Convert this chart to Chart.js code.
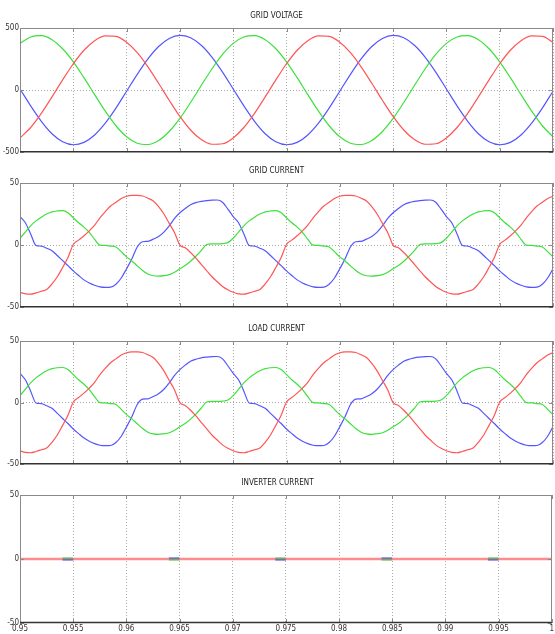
<!DOCTYPE html>
<html>
<head>
<meta charset="utf-8">
<script src="https://cdn.jsdelivr.net/npm/chart.js@4.4.1/dist/chart.umd.min.js"></script>
<style>
  body { margin: 0; background: #fff; }
  #wrap { position: relative; width: 555px; height: 634px; overflow: hidden; }
  canvas { position: absolute; left: 0; }
</style>
</head>
<body>
<div id="wrap">
  <canvas id="c1" width="555" height="150" style="top:8px"></canvas>
  <canvas id="c2" width="555" height="150" style="top:163px"></canvas>
  <canvas id="c3" width="555" height="149" style="top:321px"></canvas>
  <canvas id="c4" width="555" height="159" style="top:475px"></canvas>
</div>
<script>
'use strict';

// sampling: voltage every 1 ms, currents every 0.5 ms, from 0.95 s to 1.0 s
var tStart = 0.95;
var vStep = 0.001;
var iStep = 0.0005;

// grid voltage (V), 51 samples
var vRed = [-385, -301, -187, -55, 82, 212, 321, 398, 436, 432, 385, 301, 187, 55, -82, -212, -321, -398, -436, -432,
  -385, -301, -187, -55, 82, 212, 321, 398, 436, 432, 385, 301, 187, 55, -82, -212, -321, -398, -436, -432,
  -385, -301, -187, -55, 82, 212, 321, 398, 436, 432, 385];
var vGreen = [376, 428, 438, 406, 333, 228, 100, -37, -170, -287, -376, -428, -438, -406, -333, -228, -100, 37, 170, 287,
  376, 428, 438, 406, 333, 228, 100, -37, -170, -287, -376, -428, -438, -406, -333, -228, -100, 37, 170, 287,
  376, 428, 438, 406, 333, 228, 100, -37, -170, -287, -376];
var vBlue = [9, -127, -251, -351, -416, -440, -421, -361, -266, -145, -9, 127, 251, 351, 416, 440, 421, 361, 266, 145,
  9, -127, -251, -351, -416, -440, -421, -361, -266, -145, -9, 127, 251, 351, 416, 440, 421, 361, 266, 145,
  9, -127, -251, -351, -416, -440, -421, -361, -266, -145, -9];

// grid current (A), 101 samples
var gRed = [-38, -39.2, -39.5, -38.5, -37.2, -35.7, -31.3, -25.5, -18, -10, 0.5, 4, 7.5, 11.5, 16, 22, 27, 31.5, 34.5, 37.5,
  39.3, 40, 40, 39.5, 37.7, 35.5, 31, 25, 17.5, 10, 0, -2.2, -6, -10.5, -15.5, -20.5, -25.5, -29.5, -33.3, -36,
  -38, -39.2, -39.5, -38.5, -37.2, -35.7, -31.3, -25.5, -18, -10, 0.5, 4, 7.5, 11.5, 16, 22, 27, 31.5, 34.5, 37.5,
  39.3, 40, 40, 39.5, 37.7, 35.5, 31, 25, 17.5, 10, 0, -2.2, -6, -10.5, -15.5, -20.5, -25.5, -29.5, -33.3, -36,
  -38, -39.2, -39.5, -38.5, -37.2, -35.7, -31.3, -25.5, -18, -10, 0.5, 4, 7.5, 11.5, 16, 22, 27, 31.5, 34.5, 37.5,
  39.3];
var gGreen = [5.5, 10.5, 15.5, 19.5, 22.5, 25, 26.8, 27.5, 27.7, 26, 22, 18, 14.5, 10.3, 4.7, 0, -0.3, -0.8, -1.5, -5.3,
  -9.5, -12.8, -16.7, -20.4, -23.3, -24.7, -25, -24.6, -23.8, -21.8, -19, -16.5, -13, -9, -4.5, 0.5, 1, 1, 1.2, 2,
  5.5, 10.5, 15.5, 19.5, 22.5, 25, 26.8, 27.5, 27.7, 26, 22, 18, 14.5, 10.3, 4.7, 0, -0.3, -0.8, -1.5, -5.3,
  -9.5, -12.8, -16.7, -20.4, -23.3, -24.7, -25, -24.6, -23.8, -21.8, -19, -16.5, -13, -9, -4.5, 0.5, 1, 1, 1.2, 2,
  5.5, 10.5, 15.5, 19.5, 22.5, 25, 26.8, 27.5, 27.7, 26, 22, 18, 14.5, 10.3, 4.7, 0, -0.3, -0.8, -1.5, -5.3,
  -9.5];
var gBlue = [23, 18, 9, -0.3, -0.8, -2.5, -4.5, -8.4, -12.5, -16.5, -20.8, -24.5, -28, -30.5, -32.3, -33.6, -34, -33.8, -31.5, -26.5,
  -19, -11, -1.5, 2.7, 3, 4.8, 7, 10.5, 15.5, 21.5, 26, 29.5, 32.5, 34.2, 35.2, 35.8, 36.2, 36.3, 34.5, 29,
  23, 18, 9, -0.3, -0.8, -2.5, -4.5, -8.4, -12.5, -16.5, -20.8, -24.5, -28, -30.5, -32.3, -33.6, -34, -33.8, -31.5, -26.5,
  -19, -11, -1.5, 2.7, 3, 4.8, 7, 10.5, 15.5, 21.5, 26, 29.5, 32.5, 34.2, 35.2, 35.8, 36.2, 36.3, 34.5, 29,
  23, 18, 9, -0.3, -0.8, -2.5, -4.5, -8.4, -12.5, -16.5, -20.8, -24.5, -28, -30.5, -32.3, -33.6, -34, -33.8, -31.5, -26.5,
  -19];

// load current (A), 101 samples
var lRed = [-39.1, -40.4, -40.7, -39.7, -38.3, -36.8, -32.2, -26.3, -18.5, -10.3, 0.5, 4.1, 7.7, 11.8, 16.5, 22.7, 27.8, 32.4, 35.5, 38.6,
  40.5, 41.2, 41.2, 40.7, 38.8, 36.6, 31.9, 25.8, 18, 10.3, 0, -2.3, -6.2, -10.8, -16, -21.1, -26.3, -30.4, -34.3, -37.1,
  -39.1, -40.4, -40.7, -39.7, -38.3, -36.8, -32.2, -26.3, -18.5, -10.3, 0.5, 4.1, 7.7, 11.8, 16.5, 22.7, 27.8, 32.4, 35.5, 38.6,
  40.5, 41.2, 41.2, 40.7, 38.8, 36.6, 31.9, 25.8, 18, 10.3, 0, -2.3, -6.2, -10.8, -16, -21.1, -26.3, -30.4, -34.3, -37.1,
  -39.1, -40.4, -40.7, -39.7, -38.3, -36.8, -32.2, -26.3, -18.5, -10.3, 0.5, 4.1, 7.7, 11.8, 16.5, 22.7, 27.8, 32.4, 35.5, 38.6,
  40.5];
var lGreen = [5.7, 10.8, 16, 20.1, 23.2, 25.8, 27.6, 28.3, 28.5, 26.8, 22.7, 18.5, 14.9, 10.6, 4.8, 0, -0.3, -0.8, -1.5, -5.5,
  -9.8, -13.2, -17.2, -21, -24, -25.4, -25.8, -25.3, -24.5, -22.5, -19.6, -17, -13.4, -9.3, -4.6, 0.5, 1, 1, 1.2, 2.1,
  5.7, 10.8, 16, 20.1, 23.2, 25.8, 27.6, 28.3, 28.5, 26.8, 22.7, 18.5, 14.9, 10.6, 4.8, 0, -0.3, -0.8, -1.5, -5.5,
  -9.8, -13.2, -17.2, -21, -24, -25.4, -25.8, -25.3, -24.5, -22.5, -19.6, -17, -13.4, -9.3, -4.6, 0.5, 1, 1, 1.2, 2.1,
  5.7, 10.8, 16, 20.1, 23.2, 25.8, 27.6, 28.3, 28.5, 26.8, 22.7, 18.5, 14.9, 10.6, 4.8, 0, -0.3, -0.8, -1.5, -5.5,
  -9.8];
var lBlue = [23.7, 18.5, 9.3, -0.3, -0.8, -2.6, -4.6, -8.7, -12.9, -17, -21.4, -25.2, -28.8, -31.4, -33.3, -34.6, -35, -34.8, -32.4, -27.3,
  -19.6, -11.3, -1.5, 2.8, 3.1, 4.9, 7.2, 10.8, 16, 22.1, 26.8, 30.4, 33.5, 35.2, 36.3, 36.9, 37.3, 37.4, 35.5, 29.9,
  23.7, 18.5, 9.3, -0.3, -0.8, -2.6, -4.6, -8.7, -12.9, -17, -21.4, -25.2, -28.8, -31.4, -33.3, -34.6, -35, -34.8, -32.4, -27.3,
  -19.6, -11.3, -1.5, 2.8, 3.1, 4.9, 7.2, 10.8, 16, 22.1, 26.8, 30.4, 33.5, 35.2, 36.3, 36.9, 37.3, 37.4, 35.5, 29.9,
  23.7, 18.5, 9.3, -0.3, -0.8, -2.6, -4.6, -8.7, -12.9, -17, -21.4, -25.2, -28.8, -31.4, -33.3, -34.6, -35, -34.8, -32.4, -27.3,
  -19.6];

// inverter current (A): flat at zero, short blips just before every half cycle
var invTime = [0.95, 0.954, 0.954, 0.955, 0.955, 0.964, 0.964, 0.965, 0.965, 0.974, 0.974,
  0.975, 0.975, 0.984, 0.984, 0.985, 0.985, 0.994, 0.994, 0.995, 0.995, 1.0];
var invRed = [0, 0, 0, 0, 0, 0, 0, 0, 0, 0, 0, 0, 0, 0, 0, 0, 0, 0, 0, 0, 0, 0];
var invGreen = [null, null, 0.6, 0.6, null, null, -0.6, -0.6, null, null, 0.6,
  0.6, null, null, -0.6, -0.6, null, null, 0.6, 0.6, null, null];
var invBlue = [null, null, -0.6, -0.6, null, null, 0.6, 0.6, null, null, -0.6,
  -0.6, null, null, 0.6, 0.6, null, null, -0.6, -0.6, null, null];

var RED = 'rgb(255,85,85)';
var GREEN = 'rgb(60,225,60)';
var BLUE = 'rgb(85,85,255)';
var FONT = '"Liberation Sans Narrow", "DejaVu Sans Condensed", "Arial Narrow", sans-serif';

var toPoints = function (times, vals) {
  return vals.map(function (v, i) { return { x: times[i], y: v }; });
};
var sampleTimes = function (step, n) {
  var out = [];
  for (var i = 0; i < n; i++) out.push(Math.round((tStart + i * step) * 1e6) / 1e6);
  return out;
};

var tV = sampleTimes(vStep, vRed.length);
var tI = sampleTimes(iStep, gRed.length);

// box and inward tick marks, matlab style
var frame = {
  id: 'frame',
  afterDraw: function (chart) {
    var ctx = chart.ctx;
    var a = chart.chartArea;
    var xs = chart.scales.x;
    var ys = chart.scales.y;
    ctx.save();
    ctx.strokeStyle = '#8a8a8a';
    ctx.lineWidth = 1;
    ctx.beginPath();
    xs.ticks.forEach(function (t) {
      var px = Math.round(xs.getPixelForValue(t.value)) + 0.5;
      ctx.moveTo(px, a.top); ctx.lineTo(px, a.top + 4);
      ctx.moveTo(px, a.bottom); ctx.lineTo(px, a.bottom - 4);
    });
    ys.ticks.forEach(function (t) {
      var py = Math.round(ys.getPixelForValue(t.value)) + 0.5;
      ctx.moveTo(a.left, py); ctx.lineTo(a.left + 4, py);
      ctx.moveTo(a.right, py); ctx.lineTo(a.right - 4, py);
    });
    ctx.stroke();
    ctx.strokeRect(Math.round(a.left) + 0.5, Math.round(a.top) + 0.5,
      Math.round(a.right - a.left) - 1, Math.round(a.bottom - a.top) - 1);
    ctx.strokeStyle = '#333';
    ctx.lineWidth = 1.5;
    ctx.beginPath();
    ctx.moveTo(a.left, a.bottom - 0.5);
    ctx.lineTo(a.right, a.bottom - 0.5);
    ctx.stroke();
    ctx.restore();
  }
};

var line = function (data, color, extra) {
  var ds = {
    data: data,
    borderColor: color,
    borderWidth: 1.2,
    pointRadius: 0,
    fill: false,
    cubicInterpolationMode: 'monotone'
  };
  for (var k in extra || {}) ds[k] = extra[k];
  return ds;
};

var makeChart = function (id, title, limit, datasets, showX) {
  return new Chart(document.getElementById(id).getContext('2d'), {
    type: 'line',
    data: { datasets: datasets },
    options: {
      responsive: false,
      animation: false,
      events: [],
      layout: { padding: { left: 0, right: showX ? 0 : 2, top: 0, bottom: 0 } },
      plugins: {
        legend: { display: false },
        tooltip: { enabled: false },
        title: {
          display: true,
          text: title,
          color: '#222',
          font: { family: FONT, size: 8, weight: 'normal' },
          padding: { top: 3, bottom: 7.4 }
        }
      },
      scales: {
        x: {
          type: 'linear',
          min: 0.95,
          max: 1.0,
          ticks: {
            display: showX,
            stepSize: 0.005,
            padding: 1,
            maxRotation: 0,
            autoSkip: false,
            color: '#333',
            font: { family: FONT, size: 8 },
            callback: function (v) { return String(Math.round(v * 1000) / 1000); }
          },
          grid: {
            drawTicks: false,
            color: '#aaa',
            lineWidth: 1
          },
          border: { display: false, dash: [1, 2] },
          afterFit: function (s) { s.height = showX ? 11 : 0; }
        },
        y: {
          min: -limit,
          max: limit,
          ticks: {
            stepSize: limit,
            padding: 1,
            color: '#333',
            font: { family: FONT, size: 8 },
            callback: function (v) { return String(v); }
          },
          grid: {
            drawTicks: false,
            color: function (c) { return c.tick && c.tick.value === 0 ? '#aaa' : 'rgba(0,0,0,0)'; }
          },
          border: { display: false, dash: [1, 2] },
          afterFit: function (s) { s.width = 20; }
        }
      }
    },
    plugins: [frame]
  });
};

makeChart('c1', 'GRID VOLTAGE', 500, [
  line(toPoints(tV, vRed), RED),
  line(toPoints(tV, vGreen), GREEN),
  line(toPoints(tV, vBlue), BLUE)
], false);

makeChart('c2', 'GRID CURRENT', 50, [
  line(toPoints(tI, gRed), RED),
  line(toPoints(tI, gGreen), GREEN),
  line(toPoints(tI, gBlue), BLUE)
], false);

makeChart('c3', 'LOAD CURRENT', 50, [
  line(toPoints(tI, lRed), RED),
  line(toPoints(tI, lGreen), GREEN),
  line(toPoints(tI, lBlue), BLUE)
], false);

// blips drawn over the flat pink line so they mix with it
var flat = { cubicInterpolationMode: 'default', tension: 0, spanGaps: false };
makeChart('c4', 'INVERTER CURRENT', 50, [
  line(toPoints(invTime, invGreen), 'rgba(50,200,50,0.6)', Object.assign({ borderWidth: 2 }, flat)),
  line(toPoints(invTime, invBlue), 'rgba(60,60,255,0.6)', Object.assign({ borderWidth: 2 }, flat)),
  line(toPoints(invTime, invRed), 'rgb(255,140,140)', Object.assign({ borderWidth: 2.5 }, flat))
], true);
</script>
</body>
</html>
